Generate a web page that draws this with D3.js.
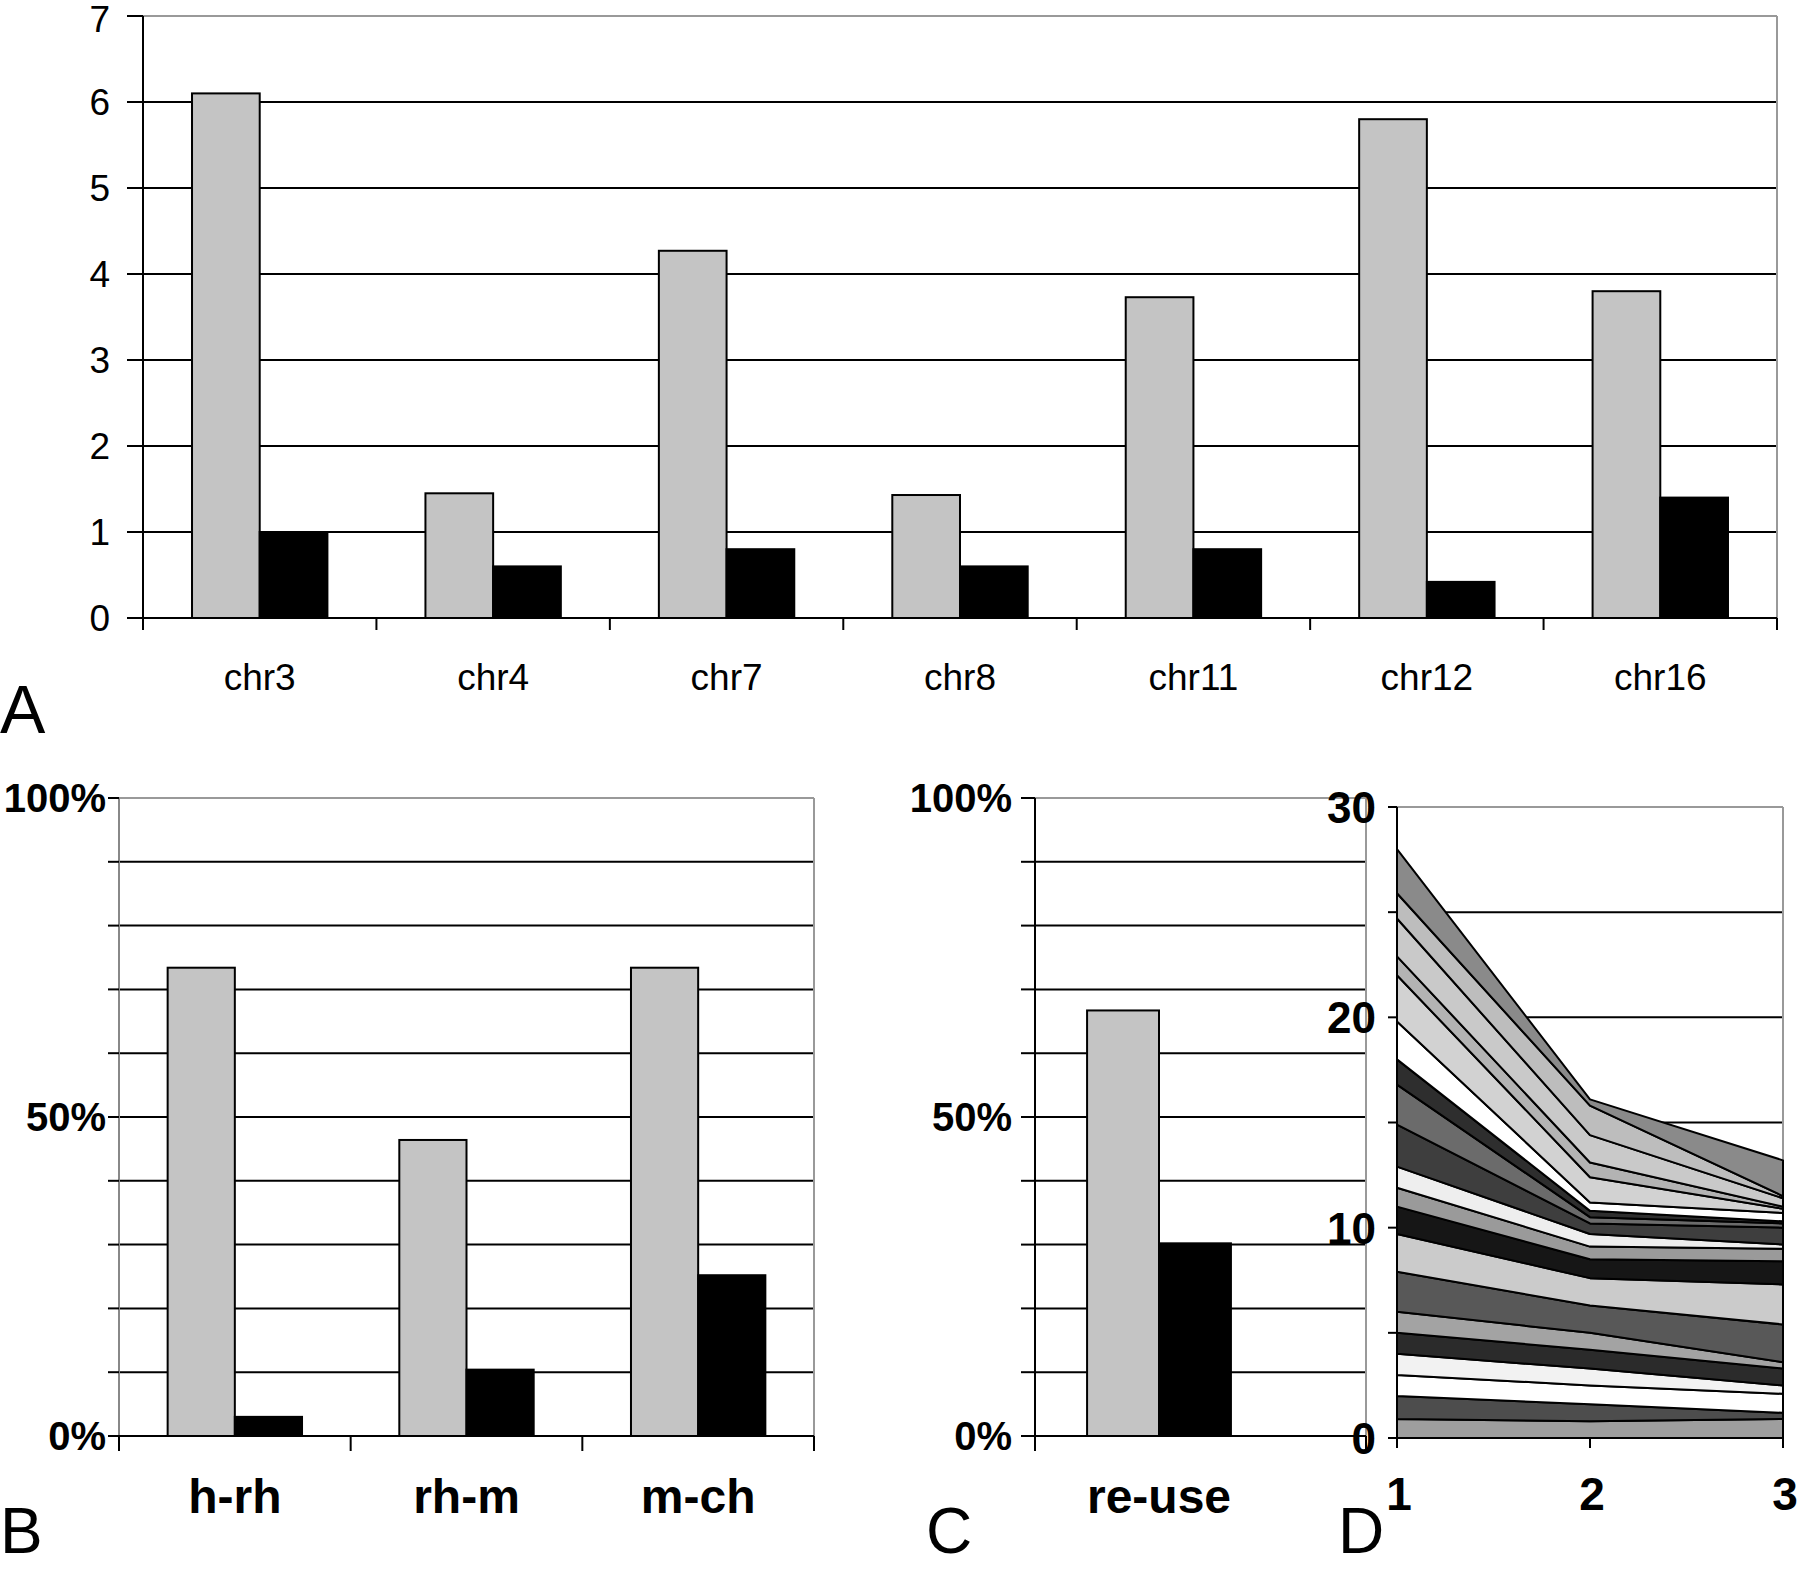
<!DOCTYPE html>
<html><head><meta charset="utf-8">
<script src="https://cdn.jsdelivr.net/npm/d3@7"></script>
<style>body{margin:0;background:#fff} text{font-family:"Liberation Sans",Arial,sans-serif;fill:#000}</style>
</head><body><svg id="c" width="1800" height="1570"></svg>
<script>
// ---------- data ----------
const chrCats = ["chr3","chr4","chr7","chr8","chr11","chr12","chr16"];
const chrGray = [6.1,1.45,4.27,1.43,3.73,5.8,3.8];
const chrBlack = [1.0,0.6,0.8,0.6,0.8,0.42,1.4];
const chrTicks = [0,1,2,3,4,5,6,7];

const pairCats = ["h-rh","rh-m","m-ch"];
const pairGray = [0.734,0.464,0.734];
const pairBlack = [0.03,0.104,0.252];
const reuseCats = ["re-use"];
const reuseGray = [0.667];
const reuseBlack = [0.302];
const pctMinor = [0,0.1,0.2,0.3,0.4,0.5,0.6,0.7,0.8,0.9,1.0];
const pctLabels = [0,0.5,1];

const stepX = [1,2,3];
// stacked layers, bottom to top: value at x=1, x=2, x=3
const layerValues = [
  [0.9,0.8,0.9],[1.1,0.8,0.3],[1.0,0.9,0.9],[1.0,0.8,0.4],[1.0,0.9,0.8],
  [1.0,0.8,0.3],[1.9,1.3,1.8],[1.8,1.3,1.9],[1.3,0.9,1.1],[0.9,0.6,0.6],
  [1.0,0.6,0.2],[2.0,0.5,0.8],[1.9,0.3,0.2],[1.2,0.3,0.1],[1.8,0.4,0.4],
  [2.2,1.2,0.2],[0.9,0.7,0.1],[1.8,1.3,0.4],[1.2,1.4,0.1],[2.1,0.3,1.7]
];
const layerFills = ["#9e9e9e","#4d4d4d","#ffffff","#f2f2f2","#2b2b2b",
  "#a3a3a3","#585858","#cbcbcb","#161616","#9a9a9a",
  "#eeeeee","#3e3e3e","#6b6b6b","#2e2e2e","#ffffff",
  "#d2d2d2","#b3b3b3","#c9c9c9","#bdbdbd","#8a8a8a"];
const dMinor = [0,5,10,15,20,25,30];
const dLabels = [0,10,20,30];

// ---------- drawing ----------
const svg = d3.select("#c");
const GRAY_BAR = "#c4c4c4", BORDER = "#999";

function hline(g, x1, x2, y, color, w){ g.append("line").attr("x1",x1).attr("x2",x2).attr("y1",y).attr("y2",y).attr("stroke",color).attr("stroke-width",w||2); }
function vline(g, x, y1, y2, color, w){ g.append("line").attr("x1",x).attr("x2",x).attr("y1",y1).attr("y2",y2).attr("stroke",color).attr("stroke-width",w||2); }
function txt(g, x, y, s, size, anchor, weight){
  return g.append("text").attr("x",x).attr("y",y).attr("font-size",size).attr("text-anchor",anchor||"middle")
    .attr("font-weight",weight||"normal").text(s);
}
function drawBars(g, cats, gray, black, x, y){
  const sub = d3.scaleBand().domain(["g","b"]).range([0,x.bandwidth()]).paddingOuter(0.724).paddingInner(0);
  g.selectAll(null).data(cats).join("rect")
    .attr("x",(c)=>x(c)+sub("g")).attr("width",sub.bandwidth())
    .attr("y",(c,i)=>y(gray[i])).attr("height",(c,i)=>y(0)-y(gray[i]))
    .attr("fill",GRAY_BAR).attr("stroke","#000").attr("stroke-width",2);
  g.selectAll(null).data(cats).join("rect")
    .attr("x",(c)=>x(c)+sub("b")).attr("width",sub.bandwidth())
    .attr("y",(c,i)=>y(black[i])).attr("height",(c,i)=>y(0)-y(black[i]))
    .attr("fill","#000").attr("stroke","#000").attr("stroke-width",2);
}

// Panel A
{
  const g = svg.append("g");
  const x = d3.scaleBand().domain(chrCats).range([143,1777]);
  const y = d3.scaleLinear().domain([0,7]).range([618,16]);
  chrTicks.filter(t=>t>0).forEach(t=>hline(g,143,1777,y(t),t===7?BORDER:"#000"));
  vline(g,1777,y(7),y(0),BORDER);
  vline(g,143,y(7),y(0),"#000");
  chrTicks.forEach(t=>{ hline(g,127,143,y(t),"#000"); txt(g,110,y(t),String(t),37,"end").attr("dy",t===7?"0.42em":"0.35em"); });
  drawBars(g, chrCats, chrGray, chrBlack, x, y);
  hline(g,143,1777,y(0),"#000");
  chrCats.forEach(c=>vline(g,x(c),y(0),y(0)+12,"#000"));
  vline(g,x.range()[1],y(0),y(0)+12,"#000");
  chrCats.forEach(c=>txt(g,x(c)+x.bandwidth()/2,690,c,37));
  txt(g,0,733,"A",68,"start");
}

function pctPanel(cats, gray, black, left, right, bandRight, axisColor, labelEnd, tickStart){
  const g = svg.append("g");
  const x = d3.scaleBand().domain(cats).range([left,bandRight]);
  const y = d3.scaleLinear().domain([0,1]).range([1436,798]);
  pctMinor.filter(t=>t>0).forEach(t=>hline(g,left,right,y(t),t===1?BORDER:"#000"));
  vline(g,right,y(1),y(0),BORDER);
  vline(g,left,y(1),y(0),axisColor);
  pctMinor.forEach(t=>hline(g,tickStart,left,y(t),"#000"));
  pctLabels.forEach(t=>txt(g,labelEnd,y(t),Math.round(t*100)+"%",40,"end","bold").attr("dy","0.36em"));
  drawBars(g, cats, gray, black, x, y);
  hline(g,left,right,y(0),"#000");
  cats.forEach(c=>vline(g,x(c),y(0),y(0)+15,"#000"));
  vline(g,right,y(0),y(0)+15,"#000");
  cats.forEach(c=>txt(g,x(c)+x.bandwidth()/2,1513,c,48,"middle","bold"));
}
pctPanel(pairCats, pairGray, pairBlack, 119, 814, 814, "#888", 106, 108);
txt(svg,0,1553,"B",64,"start");
pctPanel(reuseCats, reuseGray, reuseBlack, 1035, 1366, 1283, "#000", 1012, 1021);
txt(svg,926,1553,"C",64,"start");

// Panel D
{
  const g = svg.append("g");
  const x = d3.scaleLinear().domain([1,3]).range([1397,1783]);
  const y = d3.scaleLinear().domain([0,30]).range([1438,807]);
  dMinor.filter(t=>t>0).forEach(t=>hline(g,x(1),x(3),y(t),t===30?BORDER:"#000"));
  vline(g,x(3),y(30),y(0),BORDER);
  const keys = layerValues.map((d,i)=>"L"+i);
  const rows = stepX.map((sx,j)=>{ const r={x:sx}; layerValues.forEach((lv,i)=>r["L"+i]=lv[j]); return r; });
  const series = d3.stack().keys(keys)(rows);
  const area = d3.area().x(d=>x(d.data.x)).y0(d=>y(d[0])).y1(d=>y(d[1]));
  g.selectAll(null).data(series).join("path")
    .attr("d",area).attr("fill",(d,i)=>layerFills[i])
    .attr("stroke","#000").attr("stroke-width",2).attr("stroke-linejoin","round");
  vline(g,x(1),y(30),y(0),"#000");
  dMinor.forEach(t=>hline(g,1388,x(1),y(t),"#000"));
  dLabels.forEach(t=>txt(g,1376,y(t),String(t),44,"end","bold").attr("dy","0.36em"));
  hline(g,x(1),x(3),y(0),"#000");
  stepX.forEach(s=>vline(g,x(s),y(0),y(0)+10,"#000"));
  stepX.forEach(s=>txt(g,x(s)+2,1510,String(s),46,"middle","bold"));
  txt(g,1338,1553,"D",64,"start");
}
</script></body></html>
